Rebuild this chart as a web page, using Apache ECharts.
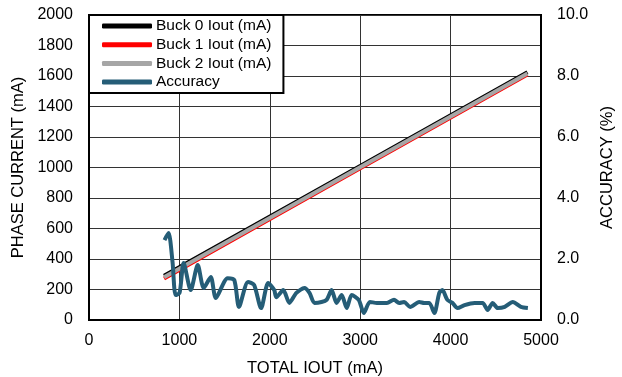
<!DOCTYPE html>
<html>
<head>
<meta charset="utf-8">
<script src="https://cdn.jsdelivr.net/npm/echarts@6/dist/echarts.min.js"></script>
<style>
  html, body { margin: 0; padding: 0; background: #fff; }
  #chart { width: 622px; height: 377px; }
</style>
</head>
<body>
<div id="chart"></div>
<script>
// phase current lines (mA vs total Iout mA)
const buck0 = [[830, 290], [3000, 1010], [4850, 1625]];
const buck1 = [[830, 272], [3000, 995], [4850, 1610]];
const buck2 = [[830, 281], [3000, 1002], [4850, 1617]];

// accuracy trace: total Iout (mA), accuracy (%)
const accX = [835, 880, 924, 958, 1002, 1047, 1125, 1203, 1269, 1347, 1403, 1533, 1607, 1659,
  1759, 1826, 1904, 1982, 2049, 2071, 2149, 2216, 2294, 2383, 2439, 2494, 2572, 2628, 2684,
  2739, 2795, 2851, 2906, 2984, 3040, 3107, 3185, 3296, 3374, 3430, 3486, 3552, 3653, 3708,
  3764, 3820, 3875, 3909, 3964, 4020, 4076, 4154, 4265, 4354, 4410, 4465, 4521, 4599, 4688,
  4777, 4855];
const accY = [2.62, 2.85, 1.90, 0.82, 0.89, 1.87, 0.98, 1.80, 1.05, 1.41, 0.72, 1.37, 1.31, 0.43,
  1.25, 1.15, 0.39, 1.21, 0.98, 0.75, 0.98, 0.56, 0.89, 1.05, 0.89, 0.56, 0.59, 0.66, 0.98,
  0.56, 0.82, 0.39, 0.82, 0.66, 0.23, 0.59, 0.56, 0.56, 0.66, 0.56, 0.59, 0.43, 0.59, 0.56,
  0.56, 0.23, 0.89, 0.98, 0.66, 0.56, 0.39, 0.49, 0.56, 0.56, 0.33, 0.56, 0.39, 0.43, 0.59,
  0.43, 0.39];

const names = ['Buck 0 Iout (mA)', 'Buck 1 Iout (mA)', 'Buck 2 Iout (mA)', 'Accuracy'];
const colors = ['#000000', '#ff0000', '#a6a6a6', '#255d77'];

const font = 'Liberation Sans, Arial, sans-serif';
const chart = echarts.init(document.getElementById('chart'));

const lineSeries = (name, data, color, width, axis) => ({
  name: name,
  type: 'line',
  data: data,
  yAxisIndex: axis,
  symbol: 'none',
  lineStyle: { color: color, width: width },
  itemStyle: { color: color },
  animation: false
});

chart.setOption({
  animation: false,
  grid: {
    left: 89, right: 81, top: 15, bottom: 57,
    outerBoundsMode: 'none', containLabel: false,
    show: true, borderColor: '#000', borderWidth: 2
  },
  legend: {
    data: names,
    orient: 'vertical',
    left: 89, top: 15,
    backgroundColor: '#fff',
    borderColor: '#000', borderWidth: 2, borderRadius: 0,
    padding: [3, 12, 3, 13],
    itemWidth: 50, itemHeight: 5, itemGap: 2.7,
    icon: 'roundRect',
    textStyle: { fontFamily: font, fontSize: 15.5, color: '#000', lineHeight: 16, padding: [0, 0, 0, -1] }
  },
  xAxis: {
    type: 'value',
    min: 0, max: 5000, interval: 1000,
    name: 'TOTAL IOUT (mA)',
    nameLocation: 'middle', nameGap: 40,
    nameTextStyle: { fontFamily: font, fontSize: 16.5, color: '#000' },
    axisLine: { show: true, lineStyle: { color: '#000', width: 2 } },
    axisTick: { show: false },
    axisLabel: { fontFamily: font, fontSize: 16, color: '#000', margin: 13,
      formatter: v => String(v) },
    splitLine: { show: true, lineStyle: { color: '#333', width: 1 } }
  },
  yAxis: [{
    type: 'value',
    min: 0, max: 2000, interval: 200,
    name: 'PHASE CURRENT (mA)',
    nameLocation: 'middle', nameGap: 56,
    nameTextStyle: { fontFamily: font, fontSize: 16.5, color: '#000' },
    axisLine: { show: true, lineStyle: { color: '#000', width: 2 } },
    axisTick: { show: false },
    axisLabel: { fontFamily: font, fontSize: 16, color: '#000', margin: 16,
      formatter: v => String(v) },
    splitLine: { show: true, lineStyle: { color: '#333', width: 1 } }
  }, {
    type: 'value',
    position: 'right',
    min: 0, max: 10, interval: 2,
    name: 'ACCURACY (%)',
    nameLocation: 'middle', nameGap: 51,
    nameTextStyle: { fontFamily: font, fontSize: 16.5, color: '#000' },
    axisLine: { show: true, lineStyle: { color: '#000', width: 2 } },
    axisTick: { show: false },
    axisLabel: { fontFamily: font, fontSize: 16, color: '#000', margin: 16,
      formatter: v => v.toFixed(1) },
    splitLine: { show: false }
  }],
  series: [
    lineSeries(names[0], buck0, colors[0], 4, 0),
    lineSeries(names[1], buck1, colors[1], 4, 0),
    lineSeries(names[2], buck2, colors[2], 4, 0),
    Object.assign(lineSeries(names[3], accX.map((x, i) => [x, accY[i]]), colors[3], 4, 1),
      { smooth: 0.25 })
  ]
});
</script>
</body>
</html>
